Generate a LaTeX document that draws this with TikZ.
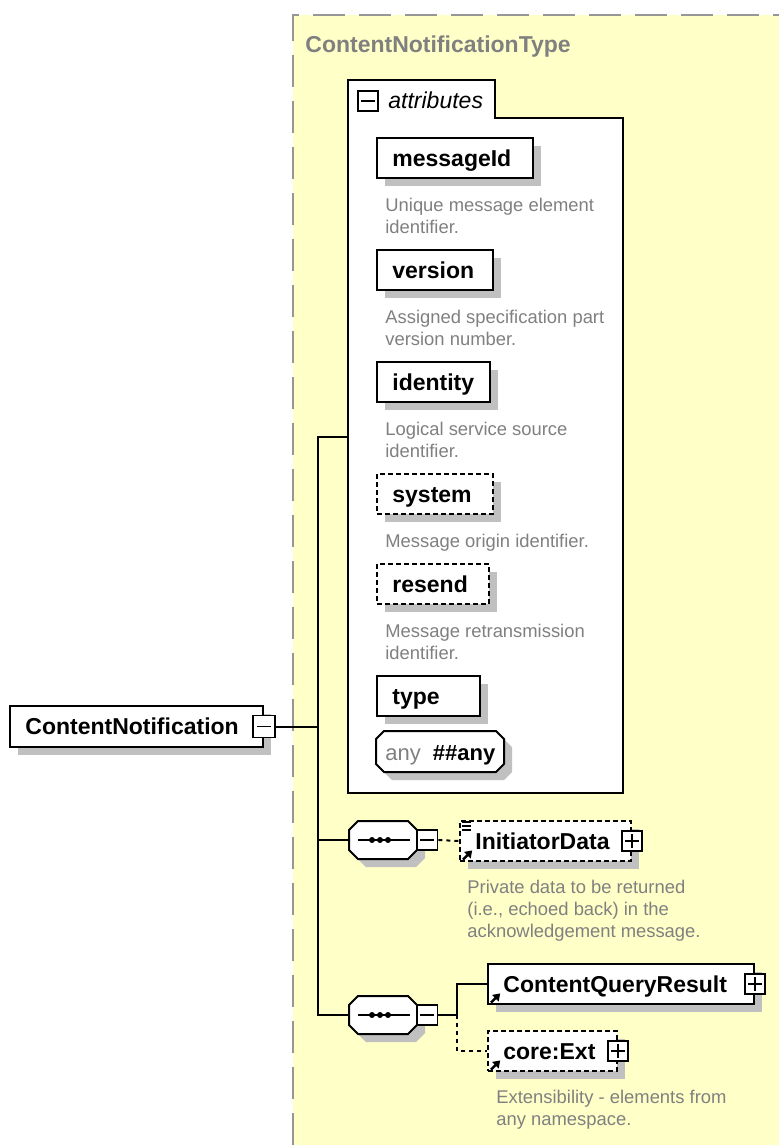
\documentclass[tikz,border=0pt]{standalone}
\usepackage{fontspec}
\setmainfont{Liberation Sans}
\usetikzlibrary{shadows,arrows.meta}

\definecolor{panelfill}{RGB}{255,255,200}
\definecolor{framegray}{RGB}{150,150,150}
\definecolor{shadegray}{RGB}{192,192,192}
\definecolor{notegray}{RGB}{128,128,128}

\tikzset{
  wire/.style={line width=1pt},
  optline/.style={dash pattern=on 2pt off 2pt},
  elem/.style={draw=black, line width=1pt, fill=white, anchor=north west, inner sep=0pt,
    general shadow={fill=shadegray, shadow xshift=4pt, shadow yshift=-4pt}},
  optional/.style={dash pattern=on 2.5pt off 1.5pt},
  elemtext/.style={anchor=west, inner sep=0pt, text height=8.2pt, text depth=0pt,
    font=\bfseries\fontsize{11.5}{13}\selectfont},
  note/.style={anchor=north west, inner sep=0pt, align=left, text=notegray,
    font=\fontsize{9.2}{11}\selectfont},
  togglebox/.style={draw=black, line width=0.9pt, fill=white, minimum size=10pt, inner sep=0pt},
  togglemark/.style={line width=0.8pt},
  refarrow/.style={line width=1.2pt, -{Triangle[length=3.4pt,width=4.4pt]}},
  panelframe/.style={draw=framegray, line width=1pt, dash pattern=on 16pt off 7pt},
}

% element box given by its corners in pixel units, label set 8pt from the left edge
\newcommand\elembox[7][]{%
  \pgfmathsetmacro\ebw{(#5-#3)*0.5}%
  \pgfmathsetmacro\ebh{(#6-#4)*0.5}%
  \node[elem,#1,minimum width=\ebw pt,minimum height=\ebh pt] (#2) at (#3,#4) {};%
  \node[elemtext] (#2-label) at ([xshift=8pt]#2.west) {#7};%
}
% expand / collapse toggles
\newcommand\plustoggle[3][10pt]{%
  \node[togglebox,minimum size=#1] (#2) at #3 {};%
  \draw[togglemark] ([xshift=-3.5pt]#2.center) -- ([xshift=3.5pt]#2.center)
                    ([yshift=-3.5pt]#2.center) -- ([yshift=3.5pt]#2.center);%
}
\newcommand\minustoggle[3][10pt]{%
  \node[togglebox,minimum size=#1] (#2) at #3 {};%
  \draw[togglemark] ([xshift=-3.5pt]#2.center) -- ([xshift=3.5pt]#2.center);%
}
% octagon outline from corner coordinates
\newcommand\octagonpath[5]{(#1+#5,#2) -- (#3-#5,#2) -- (#3,#2+#5) -- (#3,#4-#5) -- (#3-#5,#4) -- (#1+#5,#4) -- (#1,#4-#5) -- (#1,#2+#5) -- cycle}
% sequence compositor
\newcommand\sequence[3]{%
  \fill[shadegray,shift={(8,8)}] \octagonpath{349}{#2-19}{417}{#2+19}{9};%
  \draw[line width=1pt,fill=white] \octagonpath{349}{#2-19}{417}{#2+19}{9};%
  \node[inner sep=0pt,minimum width=34pt,minimum height=19pt] (#1) at (383,#2) {};%
  \draw[line width=0.9pt] (358,#2) -- (410,#2);%
  \foreach \dx in {372,380,388} \fill (\dx,#2) circle[radius=1.5pt];%
  \minustoggle{#3}{([xshift=5pt]#1.east)}%
}
% reference marker in the lower left corner of a box
\newcommand\refmark[1]{%
  \draw[refarrow] ([shift={(2pt,1.2pt)}]#1.south west) -- ++(4.6pt,4.6pt);%
}

\begin{document}
\begin{tikzpicture}[x=0.5pt,y=-0.5pt]
\useasboundingbox (0,0) rectangle (779,1145);

% complex type panel
\fill[panelfill] (293,15) rectangle (779,1145);
\draw[panelframe] (293,1145) -- (293,15) -- (779,15);
\node[anchor=north west, inner sep=0pt, text=notegray,
      font=\bfseries\fontsize{11.5}{13}\selectfont] (typename) at (305,35) {ContentNotificationType};

% attribute group
\node[inner sep=0pt, minimum width=137.5pt, minimum height=356.5pt, anchor=north west] (attr) at (348,80) {};
\draw[line width=1pt, fill=white] (348,118) -- (348,80) -- (495,80) -- (495,118)
  -- (623,118) -- (623,793) -- (348,793) -- cycle;
\minustoggle{attr-toggle}{(368,101)}
\node[anchor=west, inner sep=0pt, text height=8.2pt, text depth=0pt,
      font=\itshape\fontsize{11.5}{13}\selectfont] (attr-label) at (388,100) {attributes};

\elembox{mid}{376}{137}{532}{177}{messageId}
\node[note] (mid-note) at ([xshift=4.5pt,yshift=-9.5pt]mid.south west) {Unique message element\\identifier.};
\elembox{ver}{376}{249}{492}{289}{version}
\node[note] (ver-note) at ([xshift=4.5pt,yshift=-9.5pt]ver.south west) {Assigned specification part\\version number.};
\elembox{idt}{376}{361}{489}{401}{identity}
\node[note] (idt-note) at ([xshift=4.5pt,yshift=-9.5pt]idt.south west) {Logical service source\\identifier.};
\elembox[optional]{sys}{376}{473}{492}{513}{system}
\node[note] (sys-note) at ([xshift=4.5pt,yshift=-9.5pt]sys.south west) {Message origin identifier.};
\elembox[optional]{rsd}{376}{563}{488}{603}{resend}
\node[note] (rsd-note) at ([xshift=4.5pt,yshift=-9.5pt]rsd.south west) {Message retransmission\\identifier.};
\elembox{typ}{376}{675}{479}{715}{type}

% any attribute
\fill[shadegray,shift={(8,8)}] \octagonpath{376}{731}{504}{772}{8};
\draw[line width=1pt,fill=white] \octagonpath{376}{731}{504}{772}{8};
\node[anchor=west, inner sep=0pt, text height=8pt, text depth=0pt,
      font=\fontsize{11}{13}\selectfont] (anyattr) at (385,752)
      {\textcolor{notegray}{any}\hspace{6pt}\textbf{\#\#any}};

% root element
\elembox{cn}{9}{705}{262}{746}{ContentNotification}
\minustoggle[11pt]{cn-toggle}{(cn.east)}

% sequences
\sequence{seq1}{840}{seq1-toggle}
\sequence{seq2}{1015}{seq2-toggle}

% child elements
\elembox[optional]{init}{459}{820}{630}{860}{InitiatorData}
\plustoggle{init-toggle}{(init.east)}
\draw[line width=0.6pt] ([shift={(1.5pt,-1pt)}]init.north west) -- ++(4.5pt,0)
                        ([shift={(1.5pt,-3pt)}]init.north west) -- ++(4.5pt,0)
                        ([shift={(1.5pt,-5pt)}]init.north west) -- ++(4.5pt,0);
\refmark{init}
\node[note] (init-note) at ([xshift=4pt,yshift=-9pt]init.south west)
  {Private data to be returned\\(i.e., echoed back) in the\\acknowledgement message.};

\elembox{cqr}{487}{963}{753}{1003}{ContentQueryResult}
\plustoggle{cqr-toggle}{(cqr.east)}
\refmark{cqr}

\elembox[optional]{ext}{487}{1030}{616}{1070}{core:Ext}
\plustoggle{ext-toggle}{(ext.east)}
\refmark{ext}
\node[note] (ext-note) at ([xshift=4.5pt,yshift=-9pt]ext.south west)
  {Extensibility - elements from\\any namespace.};

% connectors
\coordinate (bus) at (318,0);
\coordinate (fork) at (457,0);
\draw[wire] (cn-toggle.east) -- (cn-toggle.east -| bus);
\draw[wire] (attr.west) -| (bus |- seq2.west) -- (seq2.west);
\draw[wire] (bus |- seq1.west) -- (seq1.west);
\draw[wire,optline] (seq1-toggle.east) -- (init.west);
\draw[wire] (seq2-toggle.east) -- (fork |- seq2-toggle.east) |- (cqr.west);
\draw[wire,optline] (fork |- seq2-toggle.east) |- (ext.west);
\end{tikzpicture}
\end{document}
